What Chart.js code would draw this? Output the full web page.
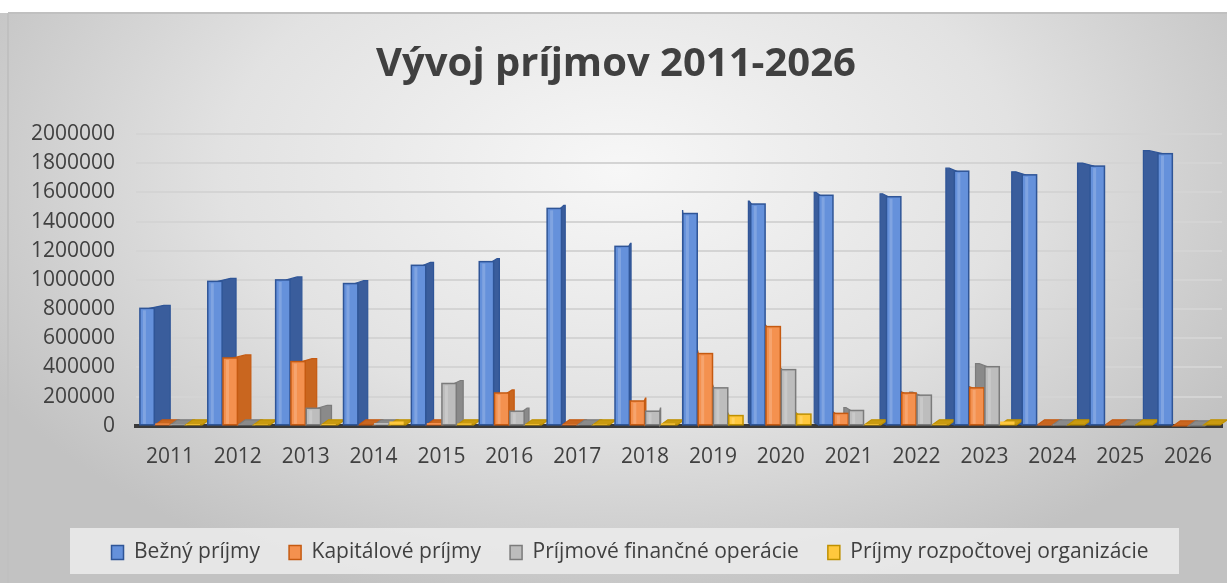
<!DOCTYPE html>
<html>
<head>
<meta charset="utf-8">
<script src="https://cdn.jsdelivr.net/npm/chart.js@4/dist/chart.umd.min.js"></script>
<style>
  html, body { margin: 0; padding: 0; background: #fff; }
  #wrap { width: 1227px; height: 583px; }
</style>
</head>
<body>
<div id="wrap"><canvas id="myChart" width="1227" height="583"></canvas></div>
<script>
const years = ['2011', '2012', '2013', '2014', '2015', '2016', '2017', '2018',
  '2019', '2020', '2021', '2022', '2023', '2024', '2025', '2026'];
const bezne = [805000, 990000, 1000000, 975000, 1100000, 1125000, 1490000, 1230000,
  1455000, 1520000, 1580000, 1570000, 1745000, 1720000, 1780000, 1865000];
const kapitalove = [15000, 465000, 440000, 8000, 20000, 225000, 10000, 170000,
  495000, 680000, 85000, 225000, 260000, 4000, 4000, 0];
const financne = [10000, 5000, 120000, 20000, 290000, 100000, 5000, 100000,
  260000, 385000, 105000, 210000, 405000, 3000, 3000, 0];
const rozpoctove = [12000, 10000, 12000, 30000, 15000, 12000, 10000, 15000,
  70000, 80000, 12000, 10000, 30000, 8000, 8000, 8000];
const yTicks = [0, 200000, 400000, 600000, 800000, 1000000, 1200000, 1400000,
  1600000, 1800000, 2000000];

const FONT = "'Open Sans', 'Liberation Sans', sans-serif";
const TXT = '#404040';

// front / side / border colours per series
const looks = [
  { front: '#6591db', side: '#3a5d9c', line: '#2f5597' },
  { front: '#f4914f', side: '#c9661f', line: '#c55a11' },
  { front: '#bdbdbd', side: '#8a8a8a', line: '#7b7b7b' },
  { front: '#ffc83d', side: '#c99a10', line: '#bf9000' },
];

// gradient backdrop + legend panel
const backdrop = {
  id: 'backdrop',
  afterLayout(chart) {
    // legend sits a little right of the canvas centre in the original
    chart.legend.left += 14;
    chart.legend.right += 14;
  },
  beforeDraw(chart) {
    const ctx = chart.ctx;
    const W = chart.width, H = chart.height;
    ctx.save();
    ctx.fillStyle = '#ffffff';
    ctx.fillRect(0, 0, W, H);
    ctx.translate(620, 170);
    ctx.scale(1, 0.62);
    const g = ctx.createRadialGradient(0, 0, 0, 0, 0, 720);
    g.addColorStop(0, '#f7f7f7');
    g.addColorStop(0.55, '#e2e2e2');
    g.addColorStop(1, '#c2c2c2');
    ctx.fillStyle = g;
    ctx.fillRect(-620, -(170 - 13) / 0.62, W, (H - 13) / 0.62);
    ctx.restore();
    ctx.save();
    ctx.strokeStyle = '#c0c0c0';
    ctx.lineWidth = 2;
    ctx.beginPath();
    ctx.moveTo(8, 13); ctx.lineTo(W, 13);
    ctx.moveTo(8, 13); ctx.lineTo(8, H);
    ctx.stroke();
    ctx.fillStyle = 'rgba(236,236,236,0.85)';
    ctx.fillRect(70, 528, 1109, 46);
    ctx.restore();
  }
};

// 3D look: a depth face behind each column, turned toward the chart centre
const sides = {
  id: 'sides',
  beforeDatasetsDraw(chart) {
    const ctx = chart.ctx;
    const vx = (chart.chartArea.left + chart.chartArea.right) / 2;
    ctx.save();
    chart.data.datasets.forEach((ds, di) => {
      const meta = chart.getDatasetMeta(di);
      meta.data.forEach((bar) => {
        const w = bar.width;
        const left = bar.x - w / 2;
        ctx.fillStyle = looks[di].side;
        ctx.strokeStyle = looks[di].line;
        ctx.lineWidth = 1.2;
        ctx.beginPath();
        if (bar.base - bar.y < 4) {
          // near-zero value: flat slab lying on the floor
          ctx.moveTo(left, bar.base);
          ctx.lineTo(left + w + 2, bar.base);
          ctx.lineTo(left + w + 9, bar.base - 5);
          ctx.lineTo(left + 7, bar.base - 5);
        } else {
          const s = Math.min(16, Math.abs(bar.x - vx) * 0.03) * (bar.x < vx ? 1 : -1);
          const edge = bar.x + (bar.x < vx ? w / 2 : -w / 2);
          ctx.moveTo(edge - s * 0.3, bar.y);
          ctx.lineTo(edge + s * 0.6, bar.y - 3);
          ctx.lineTo(edge + s, bar.y - 3);
          ctx.lineTo(edge + s, bar.base - 2);
          ctx.lineTo(edge, bar.base);
        }
        ctx.closePath();
        ctx.fill();
        ctx.stroke();
      });
    });
    ctx.restore();
  },
  afterDatasetsDraw(chart) {
    const ctx = chart.ctx;
    ctx.save();
    chart.data.datasets.forEach((ds, di) => {
      const meta = chart.getDatasetMeta(di);
      meta.data.forEach((bar) => {
        const h = bar.base - bar.y;
        if (h < 4) return;
        const left = bar.x - bar.width / 2;
        ctx.strokeStyle = looks[di].line;
        ctx.lineWidth = 1.5;
        ctx.strokeRect(left, bar.y, bar.width, h);
        ctx.fillStyle = 'rgba(255,255,255,0.18)';
        ctx.fillRect(left + 3, bar.y + 2, 3, h - 3);
      });
    });
    ctx.restore();
  }
};

function series(label, values, i) {
  return {
    label: label,
    data: values,
    backgroundColor: looks[i].front,
    borderColor: looks[i].line,
    borderWidth: 0,
    categoryPercentage: 0.9,
    barPercentage: 0.94,
  };
}

const data = {
  labels: years,
  datasets: [
    series('Bežný príjmy', bezne, 0),
    series('Kapitálové príjmy', kapitalove, 1),
    series('Príjmové finančné operácie', financne, 2),
    series('Príjmy rozpočtovej organizácie', rozpoctove, 3),
  ]
};

const config = {
  type: 'bar',
  data: data,
  plugins: [backdrop, sides],
  options: {
    responsive: false,
    animation: false,
    layout: { padding: { left: 10, right: 5, top: 0, bottom: 10 } },
    plugins: {
      title: {
        display: true,
        text: 'Vývoj príjmov 2011-2026',
        color: TXT,
        font: { family: FONT, size: 40, weight: 'bold' },
        padding: { top: 41, bottom: 45 },
      },
      legend: {
        position: 'bottom',
        labels: {
          color: TXT,
          font: { family: FONT, size: 21 },
          boxWidth: 12,
          boxHeight: 14,
          padding: 29,
          generateLabels(chart) {
            return chart.data.datasets.map((ds, i) => ({
              text: ds.label,
              fillStyle: looks[i].front,
              strokeStyle: looks[i].line,
              lineWidth: 1.5,
              datasetIndex: i,
              fontColor: TXT,
            }));
          }
        }
      },
      tooltip: { enabled: false },
    },
    scales: {
      x: {
        grid: { display: false },
        border: { display: true, color: '#3a3a3a', width: 4 },
        ticks: { color: TXT, font: { family: FONT, size: 21 }, padding: 11, maxRotation: 0 },
        afterFit(scale) { scale.height += 32; },
      },
      y: {
        min: 0,
        max: 2000000,
        afterBuildTicks(scale) { scale.ticks = yTicks.map(v => ({ value: v })); },
        ticks: {
          color: TXT,
          font: { family: FONT, size: 21 },
          padding: 21,
          callback: v => String(v),
        },
        grid: { color: '#d4d4d4', lineWidth: 2, drawTicks: false },
        border: { display: false },
      }
    }
  }
};

var myChart = new Chart(document.getElementById('myChart'), config);
</script>
</body>
</html>
